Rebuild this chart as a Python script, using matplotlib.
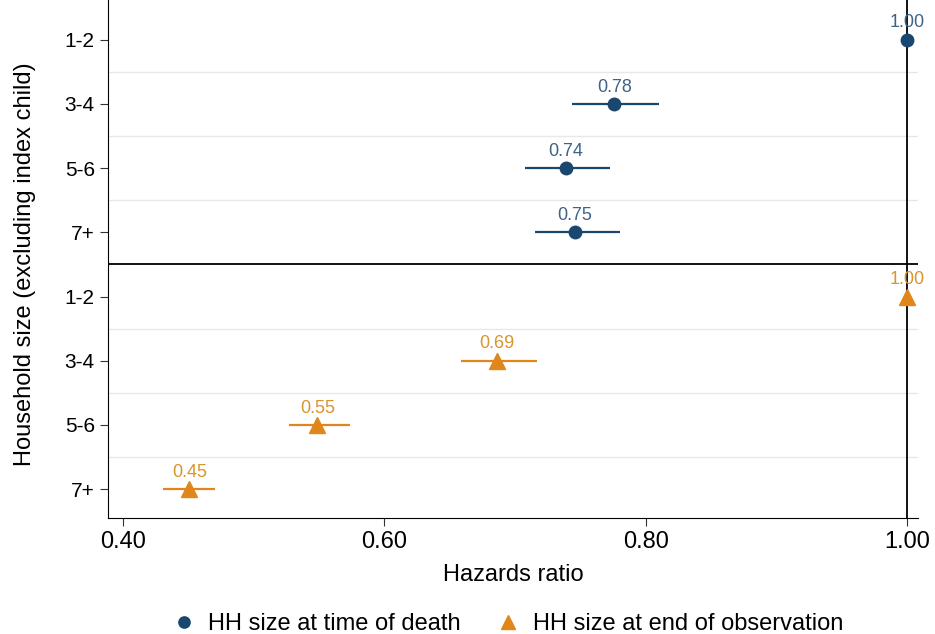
import matplotlib.pyplot as plt

plt.rcParams['font.family'] = ['Liberation Sans', 'DejaVu Sans']

# Hazard ratios by household size (excluding index child)
sizes = ["1-2", "3-4", "5-6", "7+"]

death_hr = [1.00, 0.776, 0.739, 0.746]
death_lo = [1.00, 0.744, 0.708, 0.715]
death_hi = [1.00, 0.810, 0.773, 0.780]

end_hr = [1.00, 0.686, 0.549, 0.451]
end_lo = [1.00, 0.659, 0.527, 0.431]
end_hi = [1.00, 0.717, 0.574, 0.471]

navy = "#1a476f"
orange = "#e0861a"
navy_txt = "#3d6385"
orange_txt = "#d9952e"

fig = plt.figure(figsize=(9.35, 6.34), dpi=100)
ax = fig.add_axes([0.1155, 0.183, 0.866, 0.817])

y_death = [1, 2, 3, 4]
y_end = [5, 6, 7, 8]

# light gridlines between rows (not between the two groups)
for g in [1.5, 2.5, 3.5, 5.5, 6.5, 7.5]:
    ax.axhline(g, color="#e8e8e8", lw=1, zorder=0)
ax.axhline(4.5, color="black", lw=1.3, zorder=1)
ax.axvline(1.0, color="black", lw=1.3, zorder=1)

ax.hlines(y_death, death_lo, death_hi, color=navy, lw=1.6, zorder=2)
ax.plot(death_hr, y_death, "o", color=navy, ms=9, zorder=3,
        label="HH size at time of death")
ax.hlines(y_end, end_lo, end_hi, color=orange, lw=1.6, zorder=2)
ax.plot(end_hr, y_end, "^", color=orange, ms=11, zorder=3,
        label="HH size at end of observation")

for v, y in zip(death_hr, y_death):
    ax.annotate(f"{v:.2f}", (v, y), xytext=(0, 6), textcoords="offset points",
                ha="center", va="bottom", fontsize=13, color=navy_txt)
for v, y in zip(end_hr, y_end):
    ax.annotate(f"{v:.2f}", (v, y), xytext=(0, 6), textcoords="offset points",
                ha="center", va="bottom", fontsize=13, color=orange_txt)

ax.set_xlim(0.3888, 1.008)
ax.set_ylim(8.45, 0.38)
ax.set_xticks([0.4, 0.6, 0.8, 1.0])
ax.set_xticklabels(["0.40", "0.60", "0.80", "1.00"])
ax.set_yticks(y_death + y_end)
ax.set_yticklabels(sizes + sizes)
ax.tick_params(axis="x", labelsize=17, length=6, color="#333333")
ax.tick_params(axis="y", labelsize=15, length=6, color="#333333")
ax.spines["top"].set_visible(False)
ax.spines["right"].set_visible(False)

ax.set_xlabel("Hazards ratio", fontsize=17, labelpad=8)
ax.set_ylabel("Household size (excluding index child)", fontsize=17)
ax.yaxis.set_label_coords(-0.089, 0.49)

fig.legend(loc="lower center", bbox_to_anchor=(0.543, -0.035), ncol=2, frameon=False,
           fontsize=17, handletextpad=0.55, columnspacing=1.5, handlelength=1.0,
           markerscale=0.9)

fig.savefig("out.png", dpi=100)
